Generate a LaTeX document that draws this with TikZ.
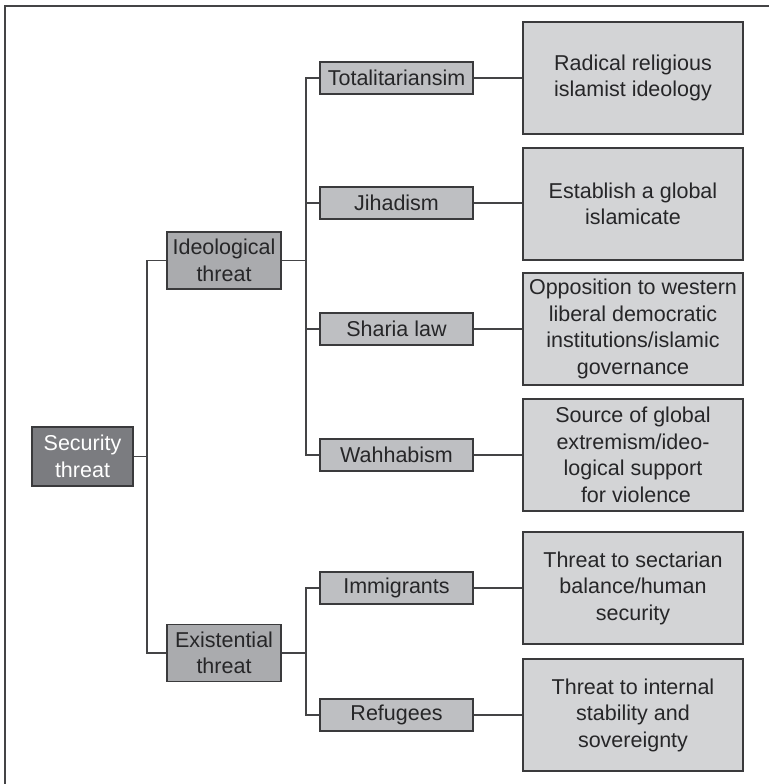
\documentclass[tikz,border=0pt]{standalone}
\usepackage{fontspec}
\setmainfont{Liberation Sans}
\begin{document}
\begin{tikzpicture}[x=1pt,y=-1pt,
  box/.style={draw=boxline,line width=1.4pt,inner sep=0pt,align=center,
    font=\fontsize{21.5}{26.5}\selectfont,text=textdark},
  rootbox/.style={box,fill=rootfill,text=white,minimum width=101pt,minimum height=59pt},
  midbox/.style={box,fill=midfill,minimum width=114pt,minimum height=57pt},
  leafbox/.style={box,fill=leaffill,minimum width=153pt,minimum height=32pt},
  notebox/.style={box,fill=notefill,minimum width=220pt,minimum height=112pt},
  link/.style={draw=linkcol,line width=1.3pt}]
\definecolor{boxline}{HTML}{3A3A3C}
\definecolor{linkcol}{HTML}{444446}
\definecolor{textdark}{HTML}{262628}
\definecolor{rootfill}{HTML}{7B7C80}
\definecolor{midfill}{HTML}{AAABAE}
\definecolor{leaffill}{HTML}{BEBFC2}
\definecolor{notefill}{HTML}{D3D4D6}
\useasboundingbox (0,0) rectangle (769,784);
% frame edges
\draw[linkcol,line width=2pt] (5,784) -- (5,6) -- (769,6);

% root and first level
\node[rootbox] (sec) at (82.5,456.5) {Security\\threat};
\node[midbox] (ideo) at (224,260.5) {Ideological\\threat};
\node[midbox] (exist) at (224,653) {Existential\\threat};

% second level
\node[leafbox] (tot) at (396.5,78) {Totalitariansim};
\node[leafbox] (jih) at (396.5,203) {Jihadism};
\node[leafbox] (sha) at (396.5,329) {Sharia law};
\node[leafbox] (wah) at (396.5,455) {Wahhabism};
\node[leafbox] (imm) at (396.5,588) {Immigrants};
\node[leafbox] (ref) at (396.5,715) {Refugees};

% descriptions
\node[notebox] (d1) at (633,78) {Radical religious\\islamist ideology};
\node[notebox] (d2) at (633,204) {Establish a global\\islamicate};
\node[notebox] (d3) at (633,329) {Opposition to western\\liberal democratic\\institutions/islamic\\governance};
\node[notebox] (d4) at (633,455) {Source of global\\extremism/ideo-\\logical support\\\ for violence};
\node[notebox] (d5) at (633,588) {Threat to sectarian\\balance/human\\security};
\node[notebox] (d6) at (633,715) {Threat to internal\\stability and\\sovereignty};

% trunk lines
\coordinate (trunk) at (147,0);
\coordinate (branch) at (306,0);
\draw[link] (ideo.west) -- (ideo.west -| trunk) -- (exist.west -| trunk) -- (exist.west);
\draw[link] (sec.east) -- (sec.east -| trunk);

\draw[link] (tot.west) -- (tot.west -| branch) -- (wah.west -| branch) -- (wah.west);
\draw[link] (jih.west) -- (jih.west -| branch);
\draw[link] (sha.west) -- (sha.west -| branch);
\draw[link] (ideo.east) -- (ideo.east -| branch);

\draw[link] (imm.west) -- (imm.west -| branch) -- (ref.west -| branch) -- (ref.west);
\draw[link] (exist.east) -- (exist.east -| branch);

% leaf to description
\draw[link] (tot.east) -- (d1.west);
\draw[link] (jih.east) -- (jih.east -| d2.west);
\draw[link] (sha.east) -- (d3.west);
\draw[link] (wah.east) -- (d4.west);
\draw[link] (imm.east) -- (d5.west);
\draw[link] (ref.east) -- (d6.west);
\end{tikzpicture}
\end{document}
